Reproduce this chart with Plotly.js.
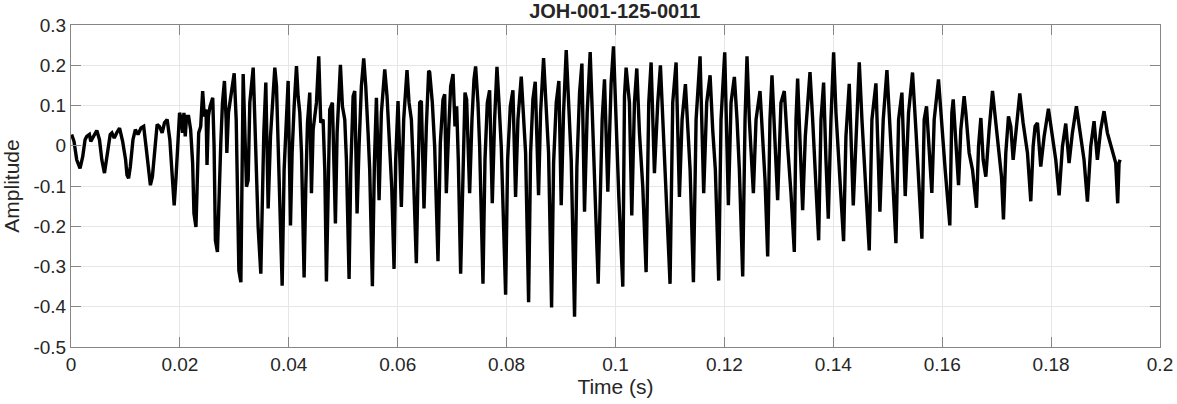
<!DOCTYPE html>
<html>
<head>
<meta charset="utf-8">
<script src="https://cdn.plot.ly/plotly-3.0.1.min.js"></script>
<style>
html,body{margin:0;padding:0;background:#fff;}
#chart{width:1177px;height:404px;}
</style>
</head>
<body>
<div id="chart"></div>
<script>
// Time in milliseconds
const timeMs = [
0.12,0.55,1.05,1.66,2.15,2.58,2.89,3.38,3.63,4.12,4.74,5.23,5.66,6.15,6.71,7.2,7.51,7.94,8.43,8.92,
9.48,10.03,10.28,10.58,10.89,11.38,11.82,12.31,12.86,13.35,13.78,14.22,14.58,14.95,15.38,15.82,16.25,16.74,17.17,17.66,
18.15,18.46,18.77,18.95,19.26,19.63,19.94,20.25,20.49,20.74,20.98,21.23,21.6,21.97,22.34,22.58,22.95,23.2,23.45,23.82,
24.18,24.49,24.8,24.98,25.23,25.54,26.03,26.28,26.52,26.89,27.2,27.51,27.82,28.18,28.49,28.62,28.92,29.23,29.6,29.97,
30.34,30.58,30.83,31.2,
31.62,32.23,32.54,32.84,33.46,33.76,34.07,34.37,34.86,35.17,35.41,35.78,36.21,36.64,37.0,37.43,37.74,38.04,38.35,38.78,
39.14,39.57,39.88,40.31,40.61,40.98,41.41,41.71,42.02,42.33,42.81,43.12,43.43,43.85,44.16,44.47,45.08,45.5,45.87,46.3,
46.61,46.91,47.22,47.52,48.01,48.56,48.87,49.17,49.48,49.85,50.28,50.58,51.07,51.38,51.81,52.11,52.54,52.9,53.33,53.76,
54.13,54.56,54.86,55.35,55.72,56.09,56.58,57.0,57.62,58.04,58.53,58.9,59.33,59.63,60.06,60.67,61.1,61.71,62.08,62.51,
62.81,63.42,63.73,64.04,64.34,64.83,65.26,65.69,
65.87,66.36,66.79,67.1,67.4,67.83,68.32,68.63,68.93,69.36,69.73,70.16,70.52,70.83,71.13,71.56,71.99,72.36,72.66,73.21,
73.64,74.01,74.31,74.74,75.05,75.66,76.03,76.46,76.88,77.37,77.8,78.23,78.6,79.02,79.82,80.19,80.68,81.16,81.65,82.08,
82.69,83.12,83.49,84.04,84.41,84.83,85.26,85.87,86.24,86.79,87.28,87.71,88.26,88.63,89.12,89.6,90.03,90.46,90.95,91.38,
91.87,92.48,92.91,93.4,93.83,94.31,94.8,95.35,95.72,96.15,96.82,
97.55,97.98,98.59,99.2,99.63,100.12,100.61,101.34,101.65,101.95,102.56,102.99,103.48,103.91,104.4,105.01,105.62,106.11,106.54,107.15,
107.76,108.25,108.8,109.29,110.02,110.51,111.13,111.74,112.23,112.84,113.27,113.7,114.31,114.8,115.53,116.2,116.75,117.37,117.85,118.34,
118.95,119.38,120.06,120.73,121.22,121.83,122.32,122.75,123.36,123.79,124.15,124.58,125.32,125.81,126.54,127.03,127.46,127.95,128.37,128.74,
129.29,129.78,130.39,131.0,
131.62,132.23,132.84,133.15,133.45,133.88,134.37,134.86,135.72,136.21,136.7,137.31,137.74,138.22,138.65,139.08,139.57,140.06,140.49,141.1,
141.89,142.32,142.93,143.67,144.28,144.77,145.26,145.87,146.6,147.09,147.83,148.56,149.17,149.85,150.4,150.89,151.5,151.99,152.6,153.21,
153.82,154.55,155.17,155.65,156.27,156.69,157.12,158.1,158.53,159.32,159.94,160.55,161.4,161.77,162.02,163.0,163.42,164.03,
164.34,164.95,165.57,166.3,166.67,167.1,167.52,168.01,168.62,169.24,169.85,170.46,170.89,171.25,171.68,172.17,172.6,173.03,173.64,174.25,
174.86,175.66,176.27,176.7,177.06,177.49,178.1,178.72,179.51,180.12,180.86,181.47,182.08,182.69,183.3,183.91,184.65,185.26,186.05,186.67,
187.28,187.89,188.5,189.11,189.72,190.34,191.25,191.87,192.23,192.48,192.66
];

// Amplitude values
const amplitude = [
0.028,0.011,-0.035,-0.056,-0.027,0.015,0.023,0.028,0.011,0.025,0.038,0.015,-0.035,-0.068,-0.018,0.028,0.032,0.019,0.033,0.044,
0.011,-0.035,-0.073,-0.081,-0.052,0.015,0.04,0.028,0.044,0.048,-0.002,-0.052,-0.098,-0.077,-0.002,0.053,0.048,0.032,0.057,0.065,
0.015,-0.043,-0.118,-0.148,-0.085,-0.002,0.082,0.065,0.032,0.082,0.023,0.073,0.073,0.04,-0.043,-0.168,-0.202,-0.085,0.032,0.048,
0.136,0.073,0.09,-0.048,0.073,0.098,0.119,-0.002,-0.235,-0.264,-0.11,0.007,0.107,0.161,0.065,-0.018,0.082,0.115,0.148,0.18,
0.065,-0.102,-0.31,-0.339,
0.178,-0.102,-0.085,0.107,0.194,0.065,-0.077,-0.202,-0.318,-0.06,0.032,0.157,-0.156,0.023,0.098,0.194,0.148,0.023,-0.143,-0.348,
-0.06,0.09,0.161,-0.198,-0.018,0.098,0.198,0.123,0.082,-0.018,-0.327,-0.102,0.057,0.132,-0.118,0.04,0.107,0.222,0.057,0.065,
-0.06,-0.337,-0.06,0.09,0.107,-0.193,0.032,0.123,0.201,0.098,0.065,-0.035,-0.331,-0.06,0.123,0.136,-0.168,-0.002,0.148,0.217,
0.148,0.032,-0.06,-0.349,-0.043,0.119,-0.135,0.082,0.19,0.123,-0.018,-0.102,-0.306,-0.035,0.111,-0.152,0.065,0.188,0.107,0.065,
-0.035,-0.292,-0.077,0.107,0.111,-0.156,0.048,0.186,
0.183,0.107,-0.002,-0.127,-0.287,0.007,0.115,0.128,-0.118,0.04,0.148,0.178,0.048,0.098,-0.035,-0.318,-0.018,0.132,0.115,-0.118,
0.065,0.165,0.197,0.107,-0.002,-0.343,-0.035,0.107,0.138,-0.143,0.065,0.196,0.107,-0.002,-0.37,-0.035,0.098,0.138,-0.127,0.065,
0.172,0.082,-0.018,-0.389,-0.018,0.115,0.159,-0.123,0.082,0.218,0.107,-0.018,-0.402,-0.043,0.107,0.161,-0.148,0.082,0.238,0.107,
-0.035,-0.425,-0.052,0.132,0.204,-0.164,0.082,0.233,0.082,-0.035,-0.343,
0.065,0.165,-0.114,0.157,0.247,0.04,-0.127,-0.35,0.123,0.194,0.107,-0.173,0.107,0.192,0.032,-0.102,-0.314,0.107,0.207,-0.068,
0.107,0.2,0.04,-0.102,-0.343,0.107,0.207,-0.127,0.065,0.153,0.04,-0.06,-0.339,0.065,0.222,-0.118,0.107,0.175,0.04,-0.06,
-0.335,0.065,0.232,-0.148,0.107,0.171,0.065,-0.06,-0.325,0.065,0.222,0.065,-0.118,0.065,0.136,0.023,-0.085,-0.275,0.065,0.175,
0.015,-0.135,0.107,0.136,
-0.002,-0.118,-0.264,0.065,0.167,0.023,-0.16,0.023,0.183,0.065,-0.085,-0.235,0.065,0.157,-0.035,-0.181,0.065,0.232,0.082,-0.06,
-0.237,0.023,0.154,-0.148,0.065,0.207,0.065,-0.085,-0.26,0.065,0.155,-0.164,0.065,0.188,0.065,-0.077,-0.242,0.065,0.132,-0.125,
0.082,0.182,0.04,-0.068,-0.231,0.065,0.098,-0.117,0.065,0.165,0.04,-0.06,-0.198,0.082,0.115,-0.098,0.04,0.123,
0.082,-0.018,-0.06,-0.154,-0.002,0.069,-0.035,-0.077,0.04,0.136,0.057,-0.018,-0.077,-0.183,-0.018,0.073,0.048,-0.035,0.04,0.13,
0.057,-0.018,-0.138,-0.002,0.048,0.057,-0.052,0.023,0.092,0.04,-0.035,-0.123,-0.002,0.055,-0.043,0.032,0.098,0.04,-0.035,-0.139,
-0.002,0.061,-0.035,0.04,0.086,0.032,-0.01,-0.043,-0.143,-0.043,-0.035
];

const xTickVals = [0,0.02,0.04,0.06,0.08,0.1,0.12,0.14,0.16,0.18,0.2];
const xTickText = ['0','0.02','0.04','0.06','0.08','0.1','0.12','0.14','0.16','0.18','0.2'];
const yTickVals = [0.3,0.2,0.1,0,-0.1,-0.2,-0.3,-0.4,-0.5];
const yTickText = ['0.3','0.2','0.1','0','-0.1','-0.2','-0.3','-0.4','-0.5'];

const timeS = timeMs.map(t => t / 1000);

const FONT = 'Liberation Sans, Arial, Helvetica, sans-serif';

const trace = {
  x: timeS,
  y: amplitude,
  type: 'scatter',
  mode: 'lines',
  line: {color: '#000000', width: 3.4},
  hoverinfo: 'skip'
};

const axisCommon = {
  showline: true,
  linecolor: '#868686',
  linewidth: 1,
  mirror: 'ticks',
  ticks: 'inside',
  ticklen: 10,
  tickwidth: 1,
  tickcolor: '#868686',
  showgrid: true,
  gridcolor: '#e6e6e6',
  gridwidth: 1,
  zeroline: false,
  tickfont: {family: FONT, size: 19, color: '#262626'}
};

const layout = {
  width: 1177,
  height: 404,
  margin: {l: 71, r: 17, t: 25, b: 57},
  paper_bgcolor: '#ffffff',
  plot_bgcolor: '#ffffff',
  showlegend: false,
  title: {
    text: '<b>JOH-001-125-0011</b>',
    font: {family: FONT, size: 20, color: '#262626'},
    x: 0.5223, xanchor: 'center',
    y: 0.972, yanchor: 'middle'
  },
  xaxis: Object.assign({}, axisCommon, {
    range: [0, 0.2],
    tickvals: xTickVals,
    ticktext: xTickText,
    title: {text: 'Time (s)', font: {family: FONT, size: 21, color: '#262626'}, standoff: 4}
  }),
  yaxis: Object.assign({}, axisCommon, {
    range: [-0.5, 0.3],
    tickvals: yTickVals,
    ticktext: yTickText,
    title: {text: 'Amplitude', font: {family: FONT, size: 21, color: '#262626'}, standoff: 8}
  })
};

Plotly.newPlot('chart', [trace], layout, {staticPlot: true, displayModeBar: false});
</script>
</body>
</html>
